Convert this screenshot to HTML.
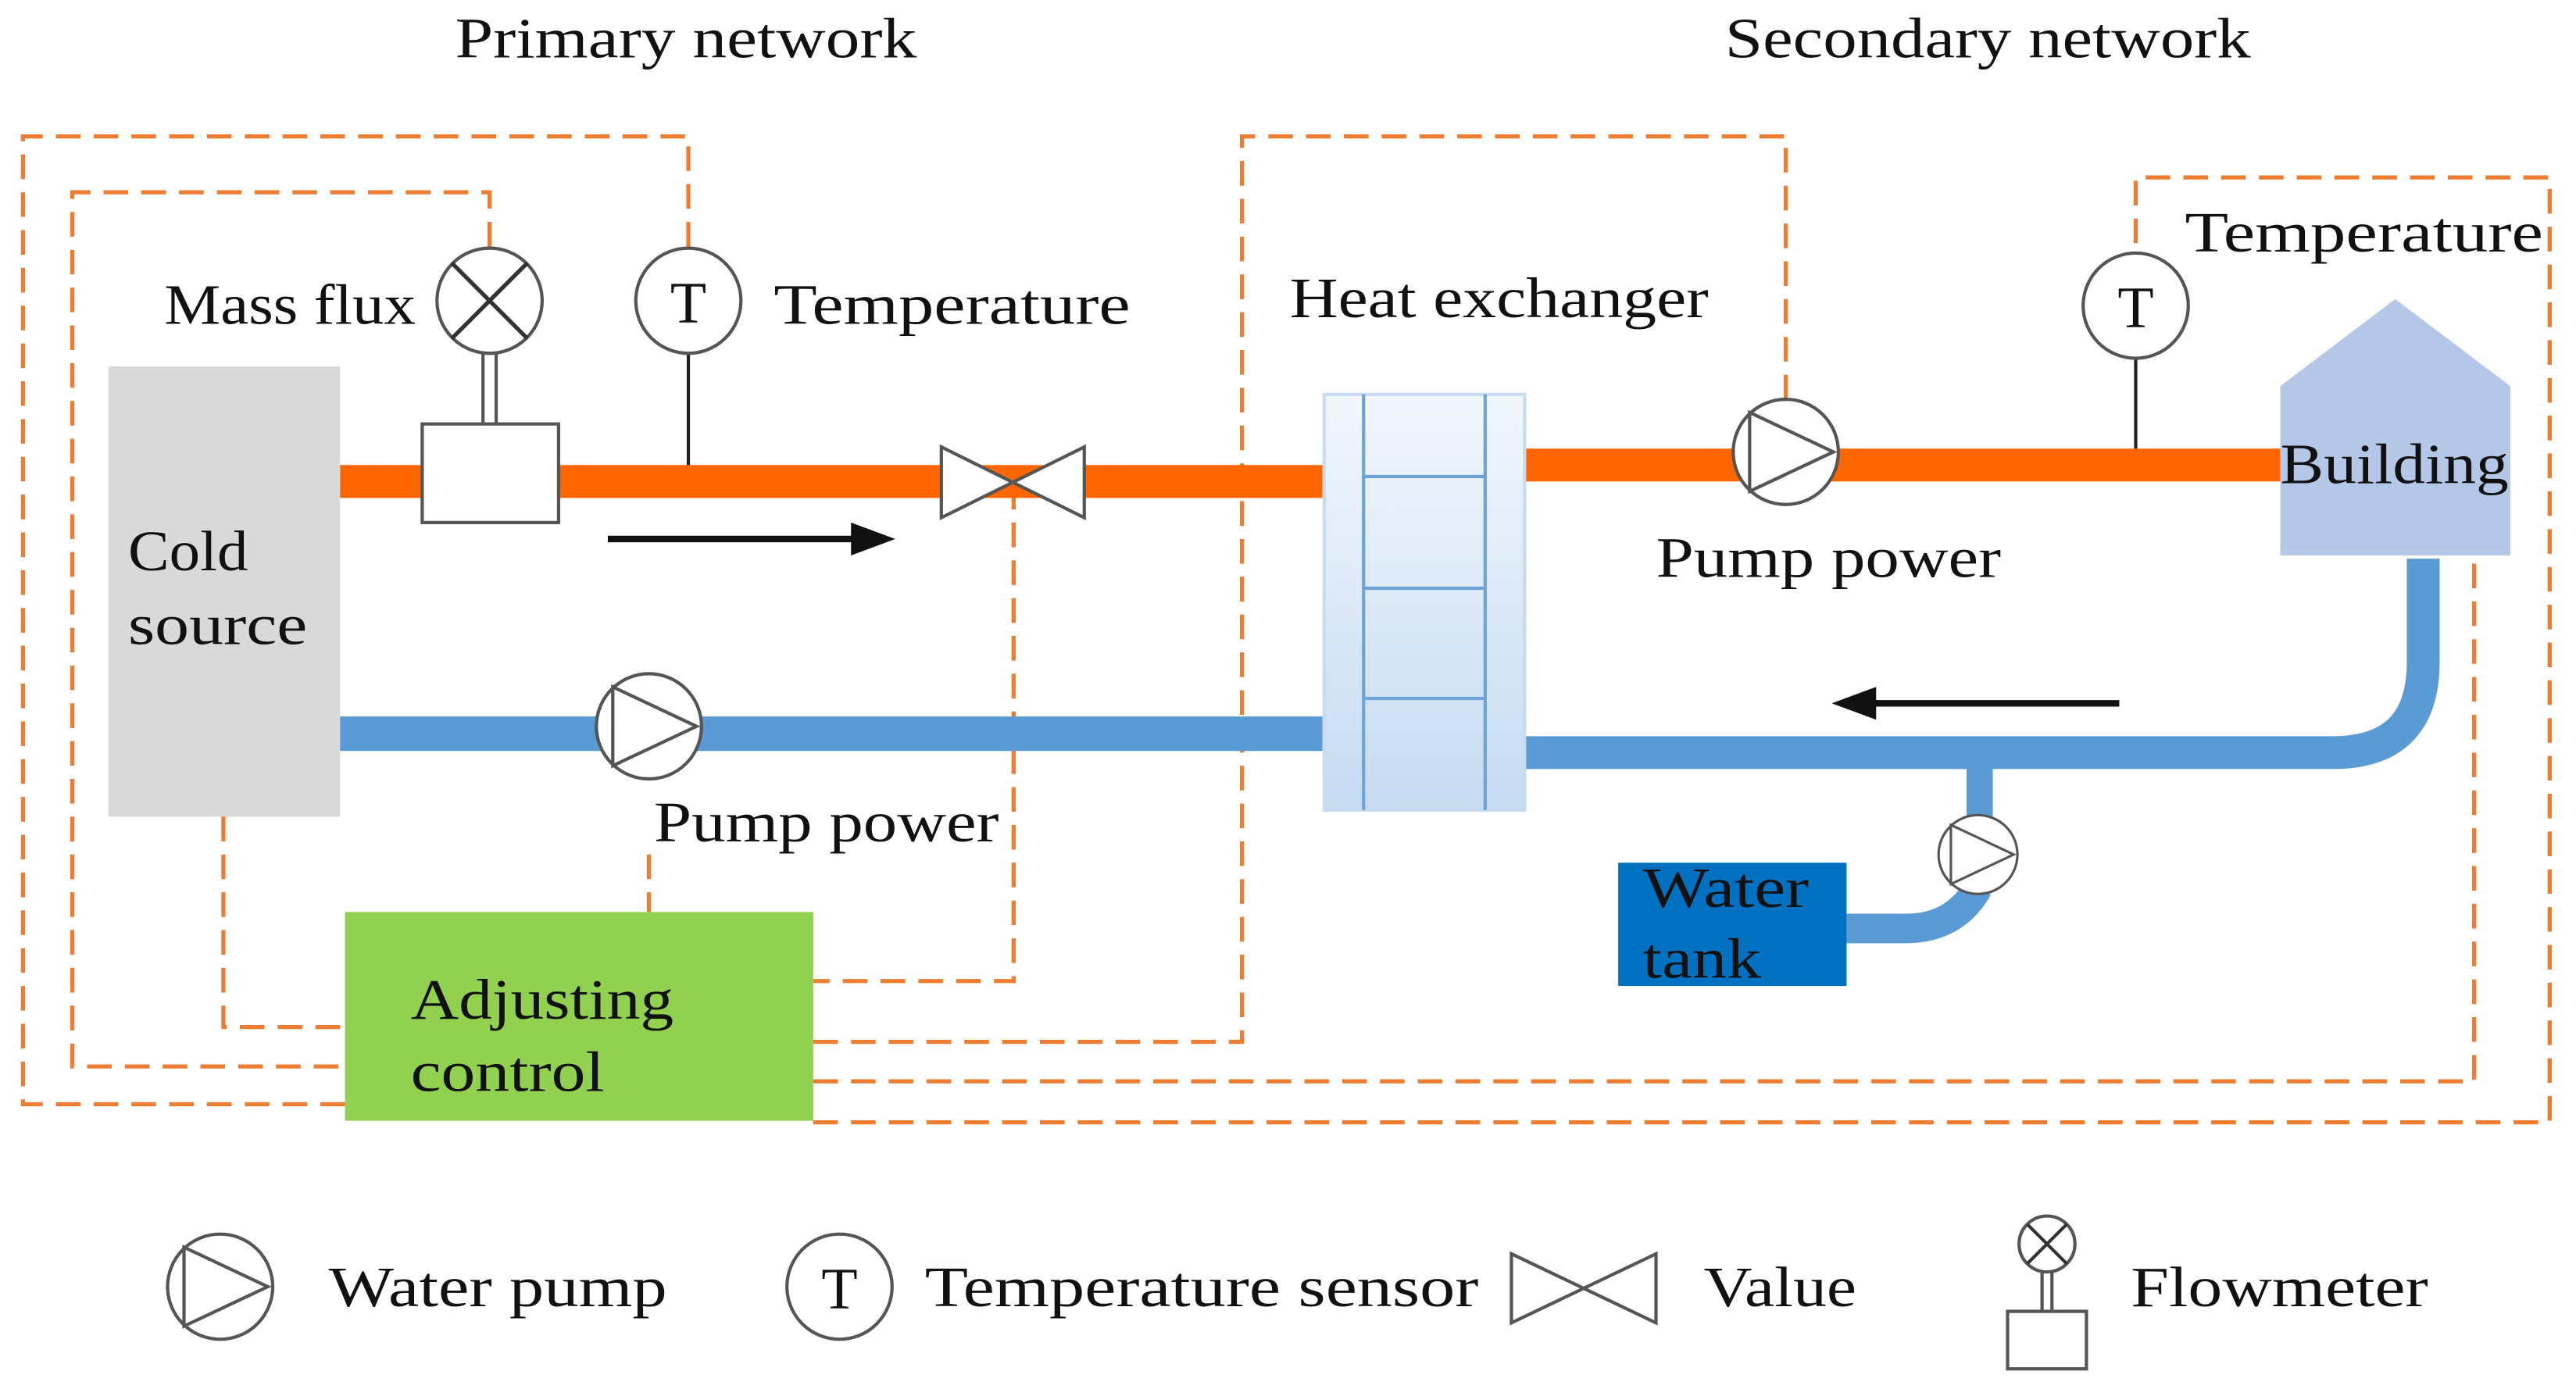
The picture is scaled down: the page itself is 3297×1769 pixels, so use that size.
<!DOCTYPE html>
<html><head><meta charset="utf-8"><style>html,body{margin:0;padding:0;background:#fff}svg{display:block}text{font-family:"Liberation Serif",serif;font-size:35px;fill:#111}</style></head>
<body>
<svg width="3297" height="1769" viewBox="0 0 1568 841" preserveAspectRatio="none" xmlns="http://www.w3.org/2000/svg">
<defs>
<linearGradient id="hx" x1="0" y1="0" x2="0" y2="1"><stop offset="0" stop-color="#f2f7fd"/><stop offset="1" stop-color="#c5dbf1"/></linearGradient>
<g id="pump"><circle r="32" fill="#fff" stroke="#555" stroke-width="2"/><path d="M-22,-24 L29,0 L-22,24 Z" fill="none" stroke="#555" stroke-width="2"/></g>
<g id="tsens"><circle r="32" fill="#fff" stroke="#555" stroke-width="2"/><text x="0" y="13" text-anchor="middle" style="font-size:36px">T</text></g>
</defs>
<text x="277" y="35" textLength="281" lengthAdjust="spacingAndGlyphs">Primary network</text>
<text x="1050" y="35" textLength="320" lengthAdjust="spacingAndGlyphs">Secondary network</text>
<g fill="none" stroke="#EE7D31" stroke-width="2.5" stroke-dasharray="15,8">
<path d="M419,150 V83 H14 V672 H210"/>
<path d="M298,150 V117 H44 V649 H210"/>
<path d="M136,497 V625 H210"/>
<path d="M617,295 V597 H495"/>
<path d="M395,520 V555"/>
<path d="M495,634 H756 V83 H1087 V243"/>
<path d="M495,658 H1506 V340"/>
<path d="M495,683 H1552 V108 H1300 V154"/>
</g>
<rect x="66" y="223" width="141" height="274" fill="#D9D9D9"/>
<text x="78" y="347" textLength="73" lengthAdjust="spacingAndGlyphs">Cold</text><text x="78" y="392" textLength="109" lengthAdjust="spacingAndGlyphs">source</text>
<rect x="207" y="283" width="598" height="20" fill="#FF6600"/>
<rect x="928" y="273" width="460" height="20" fill="#FF6600"/>
<rect x="207" y="436" width="598" height="21" fill="#5B9BD5"/>
<path d="M928,458 H1420 Q1475,458 1475,403 V340" fill="none" stroke="#5B9BD5" stroke-width="20"/>
<path d="M1205,466 V500" stroke="#5B9BD5" stroke-width="16"/>
<path d="M1204,540 Q1190,565 1160,565 H1124" fill="none" stroke="#5B9BD5" stroke-width="18"/>
<line x1="294" y1="215" x2="294" y2="258" stroke="#555" stroke-width="2"/><line x1="302" y1="215" x2="302" y2="258" stroke="#555" stroke-width="2"/>
<rect x="257" y="258" width="83" height="60" fill="#fff" stroke="#555" stroke-width="2"/>
<circle cx="298" cy="183" r="32" fill="#fff" stroke="#555" stroke-width="2"/>
<path d="M275,160 L321,206 M321,160 L275,206" stroke="#333" stroke-width="2.5"/>
<text x="100" y="197" textLength="153" lengthAdjust="spacingAndGlyphs">Mass flux</text>
<line x1="419" y1="215" x2="419" y2="283" stroke="#222" stroke-width="2"/>
<use href="#tsens" x="419" y="183"/>
<text x="471" y="197" textLength="217" lengthAdjust="spacingAndGlyphs">Temperature</text>
<line x1="370" y1="328" x2="525" y2="328" stroke="#111" stroke-width="4"/><path d="M545,328 L518,318 L518,338 Z" fill="#111"/>
<path d="M573,272 L660,315 L660,272 L573,315 Z" fill="#fff" stroke="#555" stroke-width="2"/>
<use href="#pump" x="395" y="442"/>
<text x="398" y="512" textLength="210" lengthAdjust="spacingAndGlyphs">Pump power</text>
<rect x="806" y="240" width="122" height="253" fill="url(#hx)" stroke="#c9dcef" stroke-width="2"/>
<g stroke="#6ea3d8" stroke-width="2"><line x1="830" y1="240" x2="830" y2="493"/><line x1="904" y1="240" x2="904" y2="493"/><line x1="830" y1="290" x2="904" y2="290"/><line x1="830" y1="358" x2="904" y2="358"/><line x1="830" y1="425" x2="904" y2="425"/></g>
<text x="785" y="193" textLength="255" lengthAdjust="spacingAndGlyphs">Heat exchanger</text>
<use href="#pump" x="1087" y="275"/>
<text x="1008" y="351" textLength="210" lengthAdjust="spacingAndGlyphs">Pump power</text>
<line x1="1300" y1="218" x2="1300" y2="273" stroke="#222" stroke-width="2"/>
<use href="#tsens" x="1300" y="186"/>
<text x="1330" y="153" textLength="218" lengthAdjust="spacingAndGlyphs">Temperature</text>
<path d="M1388,235 L1458,182 L1528,235 V338 H1388 Z" fill="#B4C7E7"/>
<text x="1388" y="294" textLength="139" lengthAdjust="spacingAndGlyphs">Building</text>
<line x1="1290" y1="428" x2="1135" y2="428" stroke="#111" stroke-width="4"/><path d="M1115,428 L1142,418 L1142,438 Z" fill="#111"/>
<g transform="translate(1204,520) scale(0.75)"><use href="#pump"/></g>
<rect x="985" y="525" width="139" height="75" fill="#0070C0"/>
<text x="1000" y="552" textLength="101" lengthAdjust="spacingAndGlyphs">Water</text><text x="1000" y="595" textLength="72" lengthAdjust="spacingAndGlyphs">tank</text>
<rect x="210" y="555" width="285" height="127" fill="#92D050"/>
<text x="250" y="620" textLength="160" lengthAdjust="spacingAndGlyphs">Adjusting</text><text x="250" y="664" textLength="118" lengthAdjust="spacingAndGlyphs">control</text>
<use href="#pump" x="134" y="783"/><text x="200" y="795" textLength="206" lengthAdjust="spacingAndGlyphs">Water pump</text>
<use href="#tsens" x="511" y="783"/><text x="563" y="795" textLength="337" lengthAdjust="spacingAndGlyphs">Temperature sensor</text>
<path d="M920,763 L1008,805 L1008,763 L920,805 Z" fill="#fff" stroke="#555" stroke-width="2"/>
<text x="1037" y="795" textLength="93" lengthAdjust="spacingAndGlyphs">Value</text>
<circle cx="1246" cy="757" r="17" fill="#fff" stroke="#555" stroke-width="2"/><path d="M1234,745 L1258,769 M1258,745 L1234,769" stroke="#333" stroke-width="2"/>
<line x1="1243" y1="774" x2="1243" y2="798" stroke="#555" stroke-width="2"/><line x1="1249" y1="774" x2="1249" y2="798" stroke="#555" stroke-width="2"/>
<rect x="1222" y="798" width="48" height="35" fill="#fff" stroke="#555" stroke-width="2"/>
<text x="1297" y="795" textLength="181" lengthAdjust="spacingAndGlyphs">Flowmeter</text>
</svg>
</body></html>
